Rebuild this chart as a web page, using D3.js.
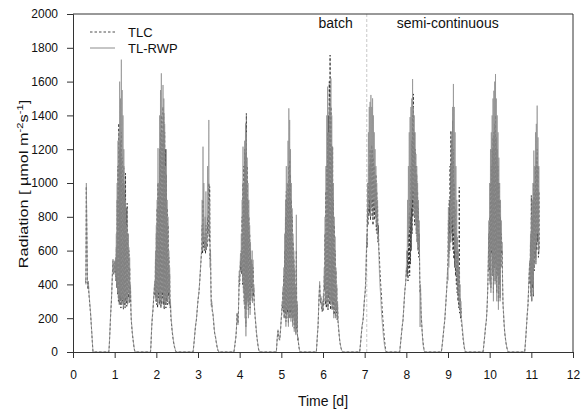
<!DOCTYPE html>
<html>
<head>
<meta charset="utf-8">
<script src="https://cdn.jsdelivr.net/npm/d3@7"></script>
<style>
  html, body { margin: 0; padding: 0; background: #fff; }
  svg { display: block; }
  text { font-family: "Liberation Sans", Arial, sans-serif; fill: #111; }
</style>
</head>
<body>
<svg id="chart" width="586" height="413"></svg>
<script>
// Sampling interval of the logger, in days
const STEP = 0.01;

// Time [d] at which each day's record block begins
const dayStart = [0.30, 0.86, 1.86, 2.88, 3.86, 4.88, 5.84, 6.88, 7.84, 8.84, 9.84, 10.84];

// TL-RWP radiation, µmol m-2 s-1, one block per day
const rwpDay0  = [430,400,1000,780,560,400,380,420,360,330,300,270,240,200,160,120,80,40,0];
const rwpDay1  = [0,40,90,150,210,260,300,360,430,500,550,500,470,520,540,480,560,450,700,400,1000,350,1250,320,1300,300,1600,330,1500,300,1730,280,1550,320,1400,260,1200,300,1000,280,900,320,750,300,850,280,700,350,620,300,560,320,400,260,190,160,130,100,80,60,40,20,10,0,0];
const rwpDay2  = [0,40,100,160,200,230,260,300,340,380,420,350,600,320,750,300,900,280,1206,350,1000,300,1400,320,1550,280,1649,300,1300,350,1580,300,1500,260,1350,300,1100,280,1200,320,900,300,800,350,600,300,500,280,300,220,190,160,130,110,90,70,55,40,30,20,10,5,0,0,0];
const rwpDay3  = [0,20,45,70,100,130,155,175,190,220,250,280,310,330,349,380,420,460,500,540,585,620,900,600,1215,650,1000,620,683,800,600,950,605,700,650,1100,782,900,1373,700,900,500,600,350,270,300,260,240,230,200,170,140,115,100,93,75,60,45,30,20,10,5,0];
const rwpDay4  = [0,15,35,55,73,95,130,180,230,190,160,240,350,480,420,520,585,506,700,480,900,420,1215,350,1000,280,1250,200,1353,93,1300,250,1150,300,1000,200,900,280,750,220,650,300,546,400,600,290,546,350,400,290,250,220,190,160,130,100,80,60,40,25,12,5,0];
const rwpDay5  = [0,40,80,110,132,110,90,80,73,100,130,170,210,240,300,270,388,250,500,200,700,250,900,150,1100,200,1000,250,1250,150,1442,200,1373,250,1200,180,1000,200,850,150,700,200,600,120,500,150,400,100,812,150,300,73,90,60,40,20,8,0];
const rwpDay6  = [0,40,80,120,152,220,300,360,418,350,300,329,280,260,250,300,250,350,300,500,388,800,300,1100,280,1400,300,1570,250,1300,350,1450,300,1500,280,1619,300,1400,250,1215,300,1000,200,800,250,683,200,500,250,400,200,300,190,160,130,100,73,55,40,28,18,10,5,2,0];
const rwpDay7  = [0,25,50,80,110,135,160,175,190,220,260,300,330,349,400,480,585,700,650,1000,800,1300,850,1450,900,1480,800,1521,850,1450,900,1501,800,1400,900,1300,850,1200,800,1100,750,1000,700,900,650,700,585,500,430,380,349,300,250,210,180,152,120,95,70,50,32,18,8,2,0];
const rwpDay8  = [0,25,50,75,100,125,150,170,190,230,270,310,350,380,400,450,500,600,550,900,620,1100,700,1300,740,1390,800,1450,850,1500,900,1615,950,1450,850,1400,800,1300,750,1172,700,1100,650,1000,620,900,600,778,500,148,400,300,220,170,120,80,50,30,15,6,0];
const rwpDay9  = [0,20,40,65,90,115,140,165,187,220,260,300,340,380,424,500,424,857,500,700,600,900,650,1100,700,1300,800,1450,750,1586,700,1450,600,1300,500,1100,450,900,400,680,350,600,300,500,250,400,220,300,200,187,160,130,100,75,55,35,20,8,0];
const rwpDay10 = [0,20,45,70,95,120,150,170,187,230,280,350,450,600,778,500,1000,400,1200,350,1300,600,1400,450,1500,300,1546,500,1600,400,1645,500,1500,300,1400,450,1300,250,1150,400,1000,300,900,500,778,600,650,400,290,250,200,160,125,100,80,60,45,30,20,10,4,0];
const rwpDay11 = [0,30,65,100,140,180,220,250,285,350,420,480,541,420,700,350,800,300,900,400,1000,350,1192,500,1100,600,1300,550,1350,650,1458,700,1270,600,1100,581];

// TLC radiation, µmol m-2 s-1, one block per day
const tlcDay0  = [420,410,980,760,540,390,370,410,350,320,290,260,230,195,155,115,75,35,0];
const tlcDay1  = [0,35,85,140,200,250,290,350,420,490,540,490,460,510,530,470,540,420,620,380,900,340,1100,300,1353,280,1200,300,1250,260,1300,280,1150,300,1000,250,1100,280,950,260,1058,300,850,270,880,280,700,320,600,290,500,300,380,240,180,150,120,95,75,55,35,18,8,0,0];
const tlcDay2  = [0,35,95,150,190,220,250,290,330,370,400,330,550,300,700,280,850,260,1000,320,950,280,1200,300,1300,260,1400,280,1250,320,1450,280,1412,250,1300,280,1200,260,1050,300,850,280,750,330,560,280,460,260,280,200,175,150,120,100,80,62,48,35,25,16,8,3,0,0,0];
const tlcDay3  = [0,18,42,68,95,125,150,170,185,215,245,275,305,325,345,375,410,450,490,530,570,600,750,580,900,620,700,600,650,680,580,750,600,650,620,800,700,850,1000,650,979,550,600,400,280,290,250,230,220,190,160,130,110,95,88,70,55,40,28,18,9,4,0];
const tlcDay4  = [0,12,30,50,70,90,125,175,230,200,170,230,330,450,400,480,540,480,600,460,800,400,1000,380,1100,300,1200,250,1176,150,1412,280,1100,320,900,250,800,300,700,260,600,320,546,380,520,300,500,330,380,290,240,210,180,150,120,95,75,55,38,22,10,4,0];
const tlcDay5  = [0,35,75,105,125,105,85,75,70,95,125,165,200,230,280,260,360,240,450,200,600,230,800,180,950,200,900,230,1000,170,1100,200,1137,230,1050,200,900,220,800,170,650,200,550,140,480,160,380,110,600,140,280,70,85,55,35,18,6,0];
const tlcDay6  = [0,35,75,115,145,210,290,350,400,340,290,320,270,250,240,290,240,330,280,450,370,700,280,950,260,1100,300,1300,250,1400,320,1600,280,1757,250,1450,300,1215,250,1215,280,900,220,750,230,600,210,480,230,380,190,280,180,150,120,95,70,52,38,26,16,9,4,1,0];
const tlcDay7  = [0,22,48,75,105,130,155,170,185,215,255,295,325,345,390,460,560,650,620,850,750,1000,800,1100,820,1200,780,1150,850,1225,800,1200,750,1150,820,1100,780,1000,800,1050,720,950,700,861,650,750,600,585,520,470,420,380,349,300,260,220,185,152,120,90,62,40,22,8,0];
const tlcDay8  = [0,22,48,72,98,122,148,168,188,225,265,305,345,375,400,430,480,500,450,600,420,700,500,820,450,900,520,1100,600,1250,700,1400,800,1527,850,1300,750,1200,800,1100,700,1050,650,950,600,850,560,700,480,350,380,250,200,160,120,90,60,40,22,10,3,0,0];
const tlcDay9  = [0,18,38,62,85,110,135,160,180,215,255,295,335,375,420,480,550,780,560,900,600,1100,650,1310,700,1250,650,1369,600,1200,550,1000,500,850,450,700,400,600,350,600,300,500,260,975,230,320,200,260,180,160,140,110,85,62,42,26,14,5,0];
const tlcDay10 = [0,18,42,66,90,115,145,165,185,225,270,340,430,560,700,480,800,420,1000,380,1100,580,1200,450,1270,350,1300,500,1350,420,1400,520,1270,350,1200,450,1100,300,1000,400,900,320,800,500,700,580,600,420,280,240,190,150,118,95,75,56,42,28,18,9,3,0];
const tlcDay11 = [0,28,60,95,135,175,215,245,280,340,410,470,530,400,650,330,926,300,800,380,900,330,1000,480,950,560,1100,520,1150,600,1200,650,1100,560,950,600];

const rwpDays = [rwpDay0, rwpDay1, rwpDay2, rwpDay3, rwpDay4, rwpDay5, rwpDay6, rwpDay7, rwpDay8, rwpDay9, rwpDay10, rwpDay11];
const tlcDays = [tlcDay0, tlcDay1, tlcDay2, tlcDay3, tlcDay4, tlcDay5, tlcDay6, tlcDay7, tlcDay8, tlcDay9, tlcDay10, tlcDay11];

// Axis ticks
const xTicks = [0,1,2,3,4,5,6,7,8,9,10,11,12];
const yTicks = [0,200,400,600,800,1000,1200,1400,1600,1800,2000];

// Start of the semi-continuous operation
const switchTime = 7.05;

const series = [
  { name: "TLC",    days: tlcDays },
  { name: "TL-RWP", days: rwpDays }
];

// ---------------------------------------------------------------------------
const svg = d3.select("#chart");
const m = { left: 73, right: 573, top: 14, bottom: 352 };

const x = d3.scaleLinear().domain([0, 12]).range([m.left, m.right]);
const y = d3.scaleLinear().domain([0, 2000]).range([m.bottom, m.top]);

function toPoints(days) {
  const pts = [];
  days.forEach((vals, k) => {
    vals.forEach((v, i) => pts.push([dayStart[k] + i * STEP, v]));
  });
  return pts;
}

const line = d3.line().x(d => x(d[0])).y(d => y(d[1]));

const plot = svg.append("g");

// phase separator
plot.append("line")
  .attr("x1", x(switchTime)).attr("x2", x(switchTime))
  .attr("y1", y(2000)).attr("y2", y(0))
  .attr("stroke", "#c8c8c8").attr("stroke-width", 1)
  .attr("stroke-dasharray", "3,2");

// TLC: dashed black (underneath)
plot.append("path")
  .datum(toPoints(series[0].days))
  .attr("d", line)
  .attr("fill", "none")
  .attr("stroke", "#222")
  .attr("stroke-width", 0.8)
  .attr("stroke-dasharray", "2.5,2");

// TL-RWP: solid grey
plot.append("path")
  .datum(toPoints(series[1].days))
  .attr("d", line)
  .attr("fill", "none")
  .attr("stroke", "#8c8c8c")
  .attr("stroke-width", 0.75)
  .attr("stroke-opacity", 0.9);

// frame (top and right)
svg.append("path")
  .attr("d", `M${m.left},${m.top}H${m.right}V${m.bottom}`)
  .attr("fill", "none").attr("stroke", "#333").attr("stroke-width", 1);

// axes
const xAxis = svg.append("g")
  .attr("transform", `translate(0,${m.bottom})`)
  .call(d3.axisBottom(x).tickValues(xTicks).tickFormat(d3.format("d")).tickSize(6).tickPadding(12));
const yAxis = svg.append("g")
  .attr("transform", `translate(${m.left},0)`)
  .call(d3.axisLeft(y).tickValues(yTicks).tickFormat(d3.format("d")).tickSize(6).tickPadding(9));

[xAxis, yAxis].forEach(g => {
  g.select(".domain").attr("stroke", "#333");
  g.selectAll(".tick line").attr("stroke", "#333");
  g.selectAll(".tick text")
    .style("font-family", '"Liberation Sans", Arial, sans-serif')
    .style("font-size", "12px").attr("fill", "#111");
});

// axis titles
svg.append("text")
  .attr("x", (m.left + m.right) / 2).attr("y", 406)
  .attr("text-anchor", "middle").style("font-size", "14px")
  .text("Time [d]");

const yl = svg.append("text")
  .attr("transform", `translate(28,184) rotate(-90) scale(1.25,1)`)
  .attr("text-anchor", "middle").style("font-size", "13px");
yl.append("tspan").text("Radiation [ µmol m");
yl.append("tspan").attr("dy", -5).style("font-size", "9px").text("-2");
yl.append("tspan").attr("dy", 5).text("s");
yl.append("tspan").attr("dy", -5).style("font-size", "9px").text("-1");
yl.append("tspan").attr("dy", 5).text("]");

// phase labels
svg.append("text")
  .attr("x", x(switchTime) - 14).attr("y", 28)
  .attr("text-anchor", "end").style("font-size", "14px")
  .text("batch");
svg.append("text")
  .attr("x", x(switchTime) + 30).attr("y", 28)
  .attr("text-anchor", "start").style("font-size", "14px")
  .text("semi-continuous");

// legend
const legend = svg.append("g");
series.forEach((s, i) => {
  const ly = 32 + i * 16;
  legend.append("line")
    .attr("x1", 90).attr("x2", 115).attr("y1", ly).attr("y2", ly)
    .attr("stroke", i === 0 ? "#222" : "#8c8c8c")
    .attr("stroke-width", i === 0 ? 0.8 : 1)
    .attr("stroke-dasharray", i === 0 ? "2.5,2" : null);
  legend.append("text")
    .attr("x", 128).attr("y", ly).attr("dy", "0.35em")
    .style("font-size", "13px")
    .text(s.name);
});
</script>
</body>
</html>
